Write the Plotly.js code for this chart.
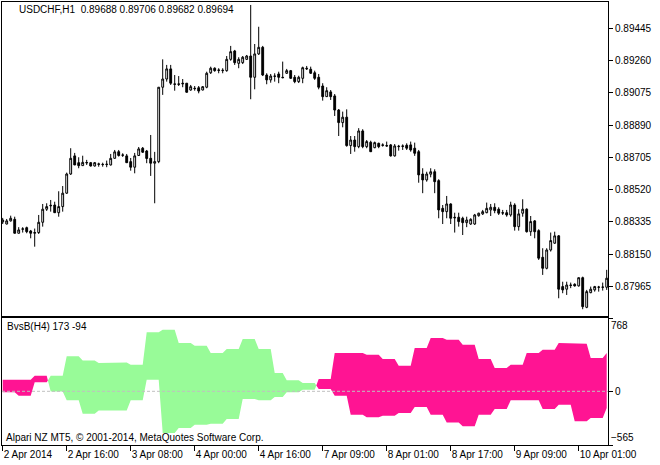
<!DOCTYPE html>
<html><head><meta charset="utf-8">
<script src="https://cdn.plot.ly/plotly-3.0.1.min.js"></script>
<style>html,body{margin:0;padding:0;background:#fff}#chart{width:660px;height:465px}</style>
</head><body><div id="chart"></div>
<script>
// ---- USDCHF H1 candles (one per hour bar, left to right) ----
const openP = [0.88335,0.88323,0.88341,0.88350,0.88270,0.88293,0.88302,0.88283,0.88270,0.88274,
0.88333,0.88408,0.88427,0.88432,0.88388,0.88423,0.88500,0.88610,0.88714,0.88675,
0.88658,0.88673,0.88675,0.88656,0.88668,0.88664,0.88664,0.88662,0.88700,0.88738,
0.88719,0.88714,0.88681,0.88649,0.88716,0.88758,0.88742,0.88700,0.88672,0.88681,
0.89108,0.89155,0.89213,0.89127,0.89127,0.89131,0.89131,0.89092,0.89102,0.89105,
0.89092,0.89108,0.89191,0.89217,0.89207,0.89203,0.89203,0.89268,0.89316,0.89245,
0.89249,0.89268,0.89287,0.89165,0.89299,0.89337,0.89178,0.89150,0.89172,0.89184,
0.89165,0.89188,0.89203,0.89165,0.89140,0.89159,0.89217,0.89211,0.89191,0.89165,
0.89115,0.89054,0.89081,0.89058,0.88977,0.88905,0.88936,0.88773,0.88805,0.88767,
0.88857,0.88767,0.88792,0.88761,0.88786,0.88777,0.88773,0.88777,0.88714,0.88767,
0.88771,0.88775,0.88777,0.88758,0.88738,0.88610,0.88576,0.88609,0.88623,0.88572,
0.88413,0.88394,0.88438,0.88362,0.88362,0.88356,0.88331,0.88323,0.88323,0.88371,
0.88381,0.88388,0.88404,0.88419,0.88408,0.88388,0.88388,0.88375,0.88432,0.88308,
0.88385,0.88408,0.88279,0.88341,0.88285,0.88132,0.88069,0.88174,0.88213,0.88255,
0.87964,0.87949,0.87973,0.87977,0.87968,0.88015,0.87845,0.87929,0.87945,0.87960,
0.87960,0.87960];
const highP = [0.88358,0.88352,0.88371,0.88365,0.88305,0.88305,0.88308,0.88289,0.88297,0.88375,
0.88438,0.88442,0.88461,0.88451,0.88511,0.88541,0.88618,0.88758,0.88731,0.88706,
0.88715,0.88691,0.88679,0.88679,0.88675,0.88675,0.88687,0.88725,0.88748,0.88748,
0.88729,0.88725,0.88702,0.88731,0.88765,0.88765,0.88748,0.88834,0.88737,0.89109,
0.89268,0.89236,0.89236,0.89178,0.89172,0.89155,0.89132,0.89121,0.89115,0.89115,
0.89115,0.89197,0.89226,0.89222,0.89217,0.89217,0.89287,0.89345,0.89322,0.89280,
0.89287,0.89293,0.89580,0.89356,0.89455,0.89345,0.89188,0.89184,0.89188,0.89197,
0.89255,0.89213,0.89207,0.89178,0.89174,0.89226,0.89230,0.89226,0.89203,0.89184,
0.89131,0.89108,0.89092,0.89069,0.88983,0.88968,0.88981,0.88828,0.88828,0.88873,
0.88867,0.88805,0.88801,0.88796,0.88790,0.88786,0.88796,0.88782,0.88782,0.88777,
0.88780,0.88786,0.88796,0.88790,0.88748,0.88643,0.88623,0.88643,0.88637,0.88580,
0.88432,0.88484,0.88442,0.88388,0.88388,0.88365,0.88365,0.88356,0.88381,0.88388,
0.88404,0.88446,0.88438,0.88442,0.88419,0.88404,0.88404,0.88451,0.88442,0.88408,
0.88465,0.88413,0.88369,0.88346,0.88293,0.88184,0.88184,0.88274,0.88279,0.88260,
0.87992,0.87992,0.87987,0.87983,0.88016,0.88021,0.87945,0.87964,0.87968,0.87968,
0.87987,0.88060];
const lowP = [0.88323,0.88321,0.88337,0.88269,0.88269,0.88274,0.88270,0.88241,0.88193,0.88266,
0.88308,0.88398,0.88394,0.88387,0.88365,0.88394,0.88496,0.88605,0.88661,0.88643,
0.88657,0.88662,0.88653,0.88653,0.88652,0.88652,0.88649,0.88659,0.88699,0.88710,
0.88708,0.88673,0.88629,0.88614,0.88714,0.88731,0.88672,0.88599,0.88442,0.88672,
0.89064,0.89140,0.89121,0.89088,0.89115,0.89108,0.89077,0.89088,0.89088,0.89073,
0.89090,0.89102,0.89184,0.89197,0.89188,0.89188,0.89197,0.89260,0.89236,0.89217,
0.89241,0.89264,0.89039,0.89096,0.89293,0.89172,0.89125,0.89134,0.89140,0.89131,
0.89159,0.89184,0.89155,0.89131,0.89132,0.89131,0.89207,0.89184,0.89150,0.89096,
0.89031,0.89052,0.89035,0.88943,0.88828,0.88878,0.88767,0.88725,0.88738,0.88758,
0.88758,0.88758,0.88737,0.88758,0.88758,0.88767,0.88767,0.88710,0.88710,0.88744,
0.88748,0.88748,0.88738,0.88714,0.88560,0.88500,0.88566,0.88591,0.88500,0.88356,
0.88323,0.88356,0.88323,0.88274,0.88308,0.88260,0.88305,0.88318,0.88318,0.88365,
0.88375,0.88385,0.88369,0.88385,0.88375,0.88375,0.88365,0.88365,0.88285,0.88285,
0.88365,0.88274,0.88255,0.88241,0.88117,0.88031,0.88063,0.88165,0.88209,0.87897,
0.87926,0.87916,0.87955,0.87964,0.87964,0.87834,0.87840,0.87926,0.87935,0.87935,
0.87941,0.87945];
const closeP = [0.88346,0.88341,0.88356,0.88270,0.88289,0.88295,0.88279,0.88270,0.88274,0.88333,
0.88408,0.88423,0.88430,0.88388,0.88423,0.88500,0.88610,0.88700,0.88662,0.88658,
0.88677,0.88676,0.88656,0.88675,0.88666,0.88665,0.88666,0.88700,0.88737,0.88716,
0.88718,0.88675,0.88649,0.88714,0.88754,0.88735,0.88699,0.88672,0.88681,0.89108,
0.89155,0.89213,0.89131,0.89125,0.89125,0.89128,0.89079,0.89111,0.89100,0.89086,
0.89111,0.89188,0.89217,0.89203,0.89205,0.89205,0.89268,0.89312,0.89249,0.89268,
0.89280,0.89287,0.89165,0.89299,0.89337,0.89178,0.89150,0.89172,0.89171,0.89165,
0.89163,0.89203,0.89159,0.89140,0.89165,0.89220,0.89214,0.89188,0.89159,0.89108,
0.89054,0.89088,0.89054,0.88977,0.88905,0.88936,0.88773,0.88805,0.88767,0.88857,
0.88767,0.88796,0.88738,0.88790,0.88767,0.88775,0.88771,0.88714,0.88771,0.88769,
0.88769,0.88758,0.88748,0.88729,0.88605,0.88576,0.88610,0.88623,0.88566,0.88404,
0.88394,0.88438,0.88356,0.88359,0.88337,0.88331,0.88346,0.88350,0.88375,0.88385,
0.88394,0.88413,0.88419,0.88400,0.88385,0.88386,0.88375,0.88432,0.88308,0.88381,
0.88408,0.88279,0.88337,0.88279,0.88127,0.88069,0.88174,0.88228,0.88255,0.87949,
0.87945,0.87973,0.87971,0.87968,0.88015,0.87849,0.87935,0.87949,0.87964,0.87961,
0.87961,0.88012];

// ---- BvsB(H4) indicator: one value pair per H4 period, starting at these H1 bars ----
const h4Start  = [0,4,8,12,16,20,24,28,32,36,40,44,48,52,56,60,64,68,71,75,79,83,87,91,95,99,103,107,111,115,119,123,127,131,135,139,143,147,151];
const bullsH4  = [-11,-46,94,164,368,325,297,304,280,620,648,508,480,403,445,550,445,192,115,87,24,-46,-246,-274,-257,-229,-166,-246,-327,-369,-246,-187,-95,-95,-187,-141,-316,-281,-176];
const bearsH4  = [122,122,164,-2,-95,-236,-201,-201,-95,122,-439,-386,-351,-341,-292,-81,-95,-60,-11,17,129,403,403,385,339,269,455,560,543,490,339,245,280,403,438,508,501,350,403];

// ---- axis ticks ----
const dateTickBars = [0,16,32,48,64,80,96,112,128,144];
const dateLabels = ['2 Apr 2014','2 Apr 16:00','3 Apr 08:00','4 Apr 00:00','4 Apr 16:00','7 Apr 09:00','8 Apr 01:00','8 Apr 17:00','9 Apr 09:00','10 Apr 01:00'];
const priceTicks = [0.87965,0.88150,0.88335,0.88520,0.88705,0.88890,0.89075,0.89260,0.89445];
const indTop = 768, indBottom = -565;

const headerText = 'USDCHF,H1  0.89688 0.89706 0.89682 0.89694';
const indText = 'BvsB(H4) 173 -94';
const copyText = 'Alpari NZ MT5, \u00A9 2001-2014, MetaQuotes Software Corp.';

// ---- build ----
const nBars = openP.length;
const idx = openP.map((_, i) => i);
const bullsBar = [], bearsBar = [];
for (let g = 0; g < h4Start.length; g++) {
  const end = g + 1 < h4Start.length ? h4Start[g + 1] : nBars;
  for (let i = h4Start[g]; i < end; i++) { bullsBar.push(bullsH4[g]); bearsBar.push(bearsH4[g]); }
}

function buildRuns(A, B) {
  const runs = []; let cur = null;
  const sgn = v => v > 0 ? 1 : (v < 0 ? -1 : 0);
  for (let i = 0; i < A.length; i++) {
    const s = sgn(A[i] - B[i]);
    if (!cur) { cur = {s: s, a: [[i, A[i]]], b: [[i, B[i]]]}; continue; }
    if (s === cur.s || s === 0 || cur.s === 0) {
      if (cur.s === 0) cur.s = s;
      cur.a.push([i, A[i]]); cur.b.push([i, B[i]]);
    } else {
      const d0 = A[i-1] - B[i-1], d1 = A[i] - B[i];
      const t = d0 / (d0 - d1);
      const xc = i - 1 + t, yc = A[i-1] + t * (A[i] - A[i-1]);
      cur.a.push([xc, yc]); cur.b.push([xc, yc]); runs.push(cur);
      cur = {s: s, a: [[xc, yc], [i, A[i]]], b: [[xc, yc], [i, B[i]]]};
    }
  }
  if (cur) runs.push(cur);
  return runs;
}
const runs = buildRuns(bullsBar, bearsBar);
function polys(sign) {
  const xs = [], ys = [];
  runs.filter(r => r.s === sign).forEach(r => {
    const pts = r.a.concat(r.b.slice().reverse());
    pts.forEach(p => { xs.push(p[0]); ys.push(p[1]); });
    xs.push(null); ys.push(null);
  });
  return {xs, ys};
}
const gp = polys(1), pp = polys(-1);

const font = 'Liberation Sans, Arial, sans-serif';
const traces = [
  {type: 'scatter', mode: 'lines', x: gp.xs, y: gp.ys, fill: 'toself', fillcolor: '#98FB98',
   line: {width: 0, color: '#98FB98'}, xaxis: 'x', yaxis: 'y', hoverinfo: 'skip', connectgaps: false},
  {type: 'scatter', mode: 'lines', x: pp.xs, y: pp.ys, fill: 'toself', fillcolor: '#FF1493',
   line: {width: 0, color: '#FF1493'}, xaxis: 'x', yaxis: 'y', hoverinfo: 'skip', connectgaps: false},
  {type: 'candlestick', x: idx, open: openP, high: highP, low: lowP, close: closeP,
   xaxis: 'x2', yaxis: 'y2', whiskerwidth: 0, hoverinfo: 'skip',
   increasing: {line: {color: '#000000', width: 1}, fillcolor: '#FFFFFF'},
   decreasing: {line: {color: '#000000', width: 1}, fillcolor: '#000000'}},
  {type: 'scatter', x: [], y: [], xaxis: 'x', yaxis: 'y3', hoverinfo: 'skip'},
  {type: 'scatter', x: [], y: [], xaxis: 'x', yaxis: 'y4', hoverinfo: 'skip'}
];

const axCommon = {showgrid: false, zeroline: false, showline: true, mirror: true, linecolor: '#000', linewidth: 1,
  tickcolor: '#000', tickfont: {family: font, size: 10, color: '#000'}};
const xr = [-0.175, 151.325];
const layout = {
  width: 660, height: 465, margin: {l: 2, r: 52, t: 2, b: 20},
  paper_bgcolor: '#fff', plot_bgcolor: '#fff', showlegend: false,
  font: {family: font, size: 10, color: '#000'},
  boxgap: 0.35,
  xaxis: Object.assign({}, axCommon, {anchor: 'y', range: xr, tickmode: 'array', tickvals: dateTickBars, ticktext: dateLabels,
    ticks: 'outside', ticklen: 5, ticklabelposition: 'outside right', rangeslider: {visible: false}}),
  xaxis2: Object.assign({}, axCommon, {anchor: 'y2', matches: 'x', range: xr, showticklabels: false, ticks: '', rangeslider: {visible: false}}),
  yaxis: Object.assign({}, axCommon, {domain: [0, 0.286], range: [indBottom, indTop], side: 'right', tickmode: 'array', tickvals: [0],
    ticks: 'outside', ticklen: 4}),
  yaxis3: {overlaying: 'y', anchor: 'x', side: 'right', range: [indBottom, indTop], tickmode: 'array', tickvals: [indTop],
    ticks: 'outside', ticklen: 4, tickcolor: '#000', ticklabelposition: 'outside bottom', showgrid: false, zeroline: false, showline: false,
    tickfont: {family: font, size: 10, color: '#000'}},
  yaxis4: {overlaying: 'y', anchor: 'x', side: 'right', range: [indBottom, indTop], tickmode: 'array', tickvals: [indBottom],
    ticks: 'outside', ticklen: 4, tickcolor: '#000', ticklabelposition: 'outside top', showgrid: false, zeroline: false, showline: false,
    tickfont: {family: font, size: 10, color: '#000'}},
  yaxis2: Object.assign({}, axCommon, {anchor: 'x2', domain: [0.2919, 1], range: [0.87797, 0.89597], side: 'right', tickmode: 'array',
    tickvals: priceTicks, tickformat: '.5f', ticks: 'outside', ticklen: 4}),
  shapes: [
    {type: 'line', xref: 'x domain', x0: 0, x1: 1, yref: 'y', y0: 0, y1: 0, layer: 'above',
     line: {color: '#C0C0C0', width: 1, dash: '3px,2px'}}
  ],
  annotations: [
    {xref: 'paper', yref: 'paper', x: 0.0248, y: 0.982, xanchor: 'left', yanchor: 'middle', showarrow: false,
     text: headerText.replace(/ /g, '&nbsp;'), font: {family: font, size: 10, color: '#000'}},
    {xref: 'paper', yref: 'paper', x: 0.005, y: 0.2664, xanchor: 'left', yanchor: 'middle', showarrow: false,
     text: indText, font: {family: font, size: 10, color: '#000'}},
    {xref: 'paper', yref: 'paper', x: 0.0033, y: 0.018, xanchor: 'left', yanchor: 'middle', showarrow: false,
     text: copyText, font: {family: font, size: 10, color: '#000'}}
  ]
};
Plotly.newPlot('chart', traces, layout, {staticPlot: true, displayModeBar: false});
</script></body></html>
